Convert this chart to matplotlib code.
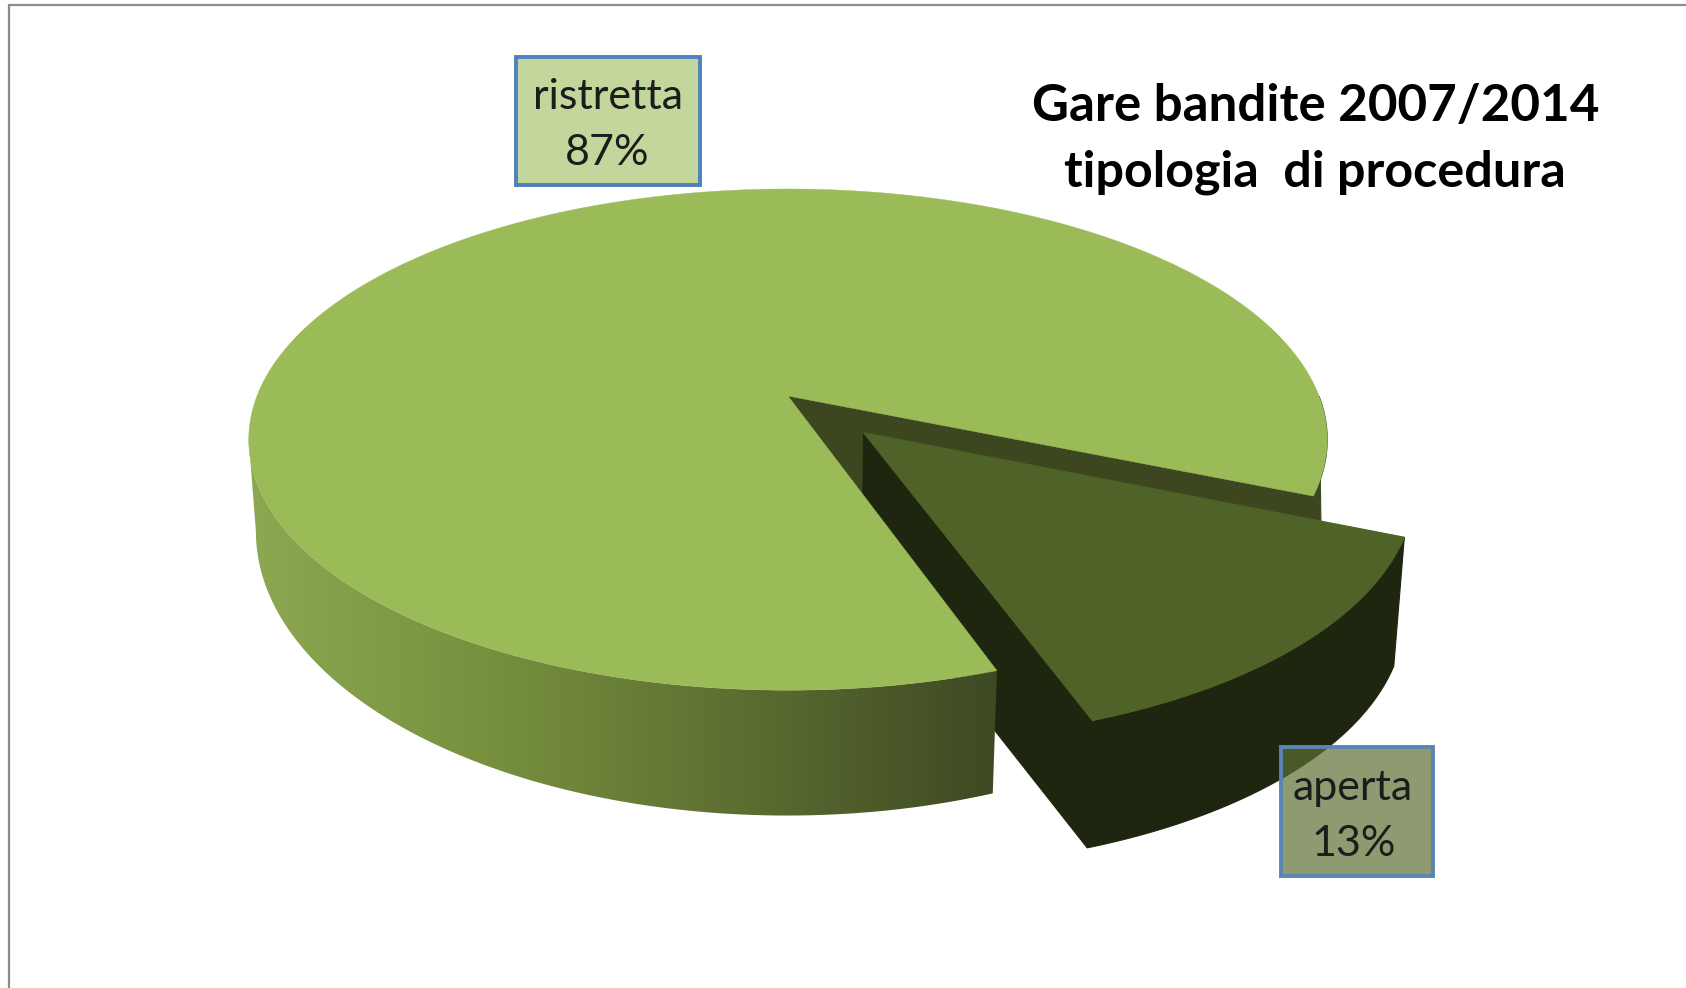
import numpy as np
import matplotlib
matplotlib.use("Agg")
import matplotlib.pyplot as plt
from matplotlib.patches import Polygon, Rectangle

categories = ["ristretta", "aperta"]
shares = [87, 13]
share_labels = ["87%", "13%"]
title_lines = ["Gare bandite 2007/2014", "tipologia  di procedura"]

W, H = 1686, 988
START_DEG = 22.6
VIEW_STRETCH = 1.03
EXPLODE = 0.204
K = 0.174
TOP = dict(x0=788.0, y0=396.0, A=531.0, B=243.0)
BOT = dict(x0=787.0, y0=482.0, A=523.0, B=275.5)
TOP_EXP = dict(x0=788.0, y0=396.0, A=526.0, B=240.5)
BOT_EXP = dict(x0=788.0, y0=526.0, A=517.0, B=238.5)
BOT_REAR = dict(x0=797.0, y0=526.0, A=524.0, B=237.0)

COL_TOP = "#9BBB59"
COL_EXP_TOP = "#4F6228"
COL_EXP_WALL = "#1E2610"
COL_CUT = "#3C4720"

plt.rcParams["font.family"] = ["Lato", "DejaVu Sans"]
fig = plt.figure(figsize=(W / 100, H / 100), dpi=100, facecolor="white")
ax = fig.add_axes([0, 0, 1, 1])


def proj(u, v, p):
    u, v = np.asarray(u, float), np.asarray(v, float)
    w = 1 - K * v
    return np.column_stack([p["x0"] + p["A"] * u / w, p["y0"] + p["B"] * v / w])


def rim(t0, t1, p, off=(0.0, 0.0), n=160):
    t = np.radians(np.linspace(t0, t1, n))
    return proj(np.cos(t) + off[0], np.sin(t) + off[1], p)


def poly(pts, color, z, lw=0.8):
    patch = Polygon(pts, closed=True, facecolor=color, edgecolor=color,
                    linewidth=lw, zorder=z)
    ax.add_patch(patch)
    return patch


sweep = shares[1] / sum(shares) * 360 * VIEW_STRETCH
t1 = START_DEG
t2 = START_DEG + sweep
mid = np.radians((t1 + t2) / 2)
off = (EXPLODE * np.cos(mid), EXPLODE * np.sin(mid))

# main slice: cut wall and rear piece of rim
apex_top = proj([0], [0], TOP)
apex_bot = proj([0], [0], BOT_REAR)
poly(np.vstack([rim(0, t1, TOP), rim(0, t1, BOT_REAR)[::-1]]), COL_CUT, 2)
poly(np.vstack([apex_top, rim(t1, t1, TOP, n=1), rim(t1, t1, BOT_REAR, n=1), apex_bot]), COL_CUT, 2)

# exploded slice
ea_top = proj([off[0]], [off[1]], TOP_EXP)
ea_bot = proj([off[0]], [off[1]], BOT_EXP)
poly(np.vstack([ea_top, rim(t2, t2, TOP_EXP, off, n=1), rim(t2, t2, BOT_EXP, off, n=1), ea_bot]), COL_EXP_WALL, 3)
poly(np.vstack([rim(t1, t2, TOP_EXP, off), rim(t1, t2, BOT_EXP, off)[::-1]]), COL_EXP_WALL, 3)
poly(np.vstack([ea_top, rim(t1, t2, TOP_EXP, off)]), COL_EXP_TOP, 4)

# main slice: shaded outer wall, a horizontal gradient clipped to the wall outline
wall = np.vstack([rim(t2, 170, TOP, n=300), rim(t2, 170, BOT, n=300)[::-1]])
clip = Polygon(wall, closed=True, transform=ax.transData, facecolor="none", edgecolor="none")
ax.add_patch(clip)
stops_x = [250, 500, 720, 990]
stops_rgb = np.array([[140, 168, 80], [118, 143, 62], [95, 113, 50], [62, 74, 35]]) / 255
xs = np.linspace(240, 1000, 400)
grad = np.stack([np.interp(xs, stops_x, stops_rgb[:, i]) for i in range(3)], axis=-1)[None, :, :]
im = ax.imshow(grad, extent=(240, 1000, 900, 400), aspect="auto", zorder=5, interpolation="bilinear")
im.set_clip_path(clip)
poly(np.vstack([apex_top, rim(t2, t1 + 360, TOP, n=500)]), COL_TOP, 6, lw=0.3)

ax.set_xlim(0, W)
ax.set_ylim(H, 0)
ax.axis("off")

# frame
ax.plot([8.5, 8.5, W], [H, 5.5, 5.5], color="#8C8C8C", lw=1.6, zorder=1,
        solid_joinstyle="miter")

# data labels
ax.add_patch(Rectangle((516, 57), 184, 128, facecolor="#C3D69B", edgecolor="#4F81BD",
                       linewidth=2.8, zorder=8))
ax.add_patch(Rectangle((1281, 747), 152, 129, facecolor=(94/255, 111/255, 51/255, 0.7),
                       edgecolor="#5B84B5", linewidth=2.8, zorder=8))
label_style = dict(ha="center", va="center", fontsize=31, color="#1C1C1C", zorder=9)
ax.text(608, 97, categories[0], **label_style)
ax.text(607, 153, share_labels[0], **label_style)
ax.text(1353, 788, categories[1], **label_style)
ax.text(1354, 844, share_labels[1], **label_style)

# title
ax.text(1316, 107, title_lines[0], ha="center", va="center", fontsize=36.8,
        fontweight="bold", color="black", zorder=9)
ax.text(1315, 172, title_lines[1], ha="center", va="center", fontsize=36.2,
        fontweight="bold", color="black", zorder=9)

fig.savefig("out.png", dpi=100, facecolor="white")
